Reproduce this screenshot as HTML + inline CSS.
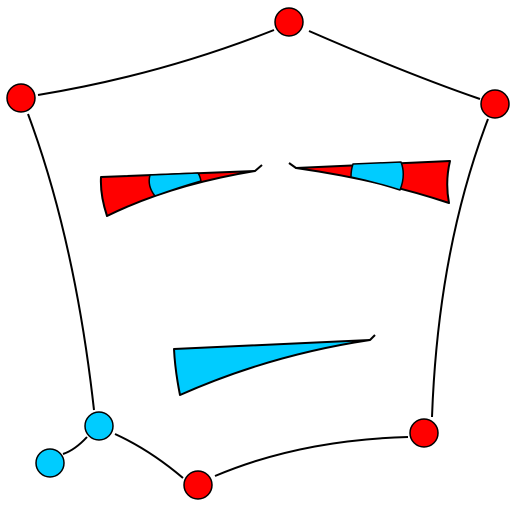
<!DOCTYPE html>
<html><head><style>html,body{margin:0;padding:0;background:#fff}svg{display:block}</style></head>
<body>
<svg width="512" height="512" viewBox="0 0 512 512">
<g fill="none" stroke="#000" stroke-width="2">
<path d="M274,30 Q160,75 38,95"/>
<path d="M309,31 Q410,75 480,99"/>
<path d="M28,114 Q75,240 94,410"/>
<path d="M488,119 Q438,250 432,417"/>
<path d="M115,434 Q150,450 183,478"/>
<path d="M215,476 Q300,440 408,437"/>
<path d="M87,437 Q75,450 63,454"/>
</g>
<g stroke="#000" stroke-width="2" stroke-linejoin="round">
<path d="M101,177 L255,171 Q170,185 107,216 Q100,195 101,177Z" fill="#f00"/>
<path d="M150,175 L198,173 Q200,176 201,181 Q180,187 155,196 Q147,186 150,175Z" fill="#00ccff" stroke-width="1.5"/>
<path d="M255,171 L262,165" fill="none"/>
</g>
<g stroke="#000" stroke-width="2" stroke-linejoin="round">
<path d="M296,168 L450,161 Q445,182 449,203 Q380,180 296,168Z" fill="#f00"/>
<path d="M353,164 L401,162 Q406,175 400,190 Q375,182 351,177 Q351,170 353,164Z" fill="#00ccff" stroke-width="1.5"/>
<path d="M296,168 L289,163" fill="none"/>
</g>
<g stroke="#000" stroke-width="2" stroke-linejoin="round">
<path d="M174,349 L370,340 Q270,355 180,395 Q175,370 174,349Z" fill="#00ccff"/>
<path d="M370,340 L375,335" fill="none"/>
</g>
<g stroke="#000" stroke-width="1.5">
<circle cx="289" cy="22" r="14" fill="#f00"/>
<circle cx="21" cy="98" r="14" fill="#f00"/>
<circle cx="495" cy="104" r="14" fill="#f00"/>
<circle cx="99" cy="426" r="14" fill="#00ccff"/>
<circle cx="50" cy="463" r="14" fill="#00ccff"/>
<circle cx="198" cy="485" r="14" fill="#f00"/>
<circle cx="424" cy="433" r="14" fill="#f00"/>
</g>
</svg>
</body></html>
